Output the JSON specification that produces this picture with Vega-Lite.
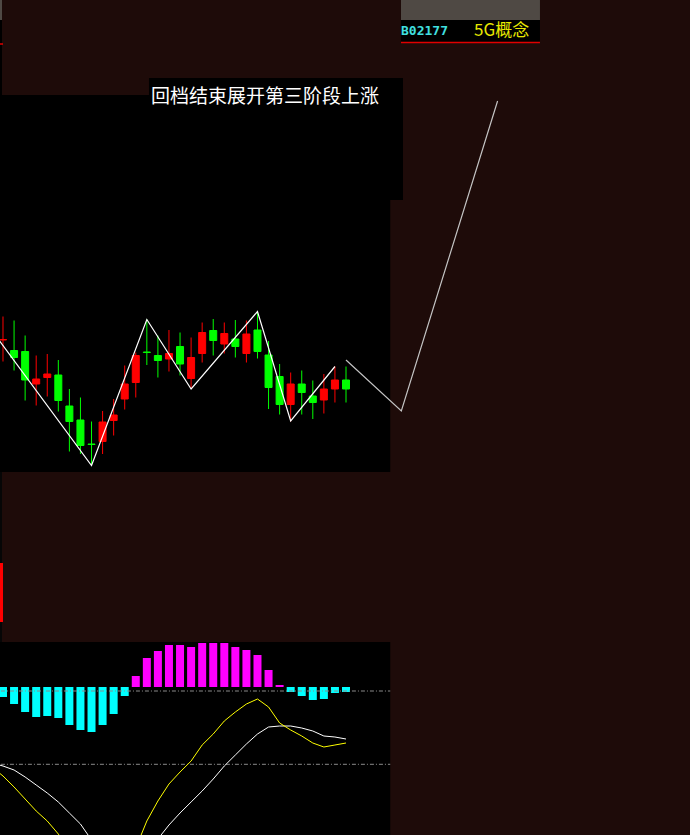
{
  "$schema": "https://vega.github.io/schema/vega-lite/v6.json",
  "width": 690,
  "height": 835,
  "autosize": {"type": "fit", "contains": "padding"},
  "padding": 0,
  "background": "#1e0b09",
  "config": {"view": {"stroke": null}, "axis": {"disable": true}, "legend": {"disable": true}, "scale": {"continuousPadding": 0}},
  "datasets": {
    "candles": [
      {"i": 0, "open": 11.20, "high": 11.67, "low": 10.77, "close": 11.21},
      {"i": 1, "open": 10.99, "high": 11.59, "low": 10.59, "close": 10.85},
      {"i": 2, "open": 10.97, "high": 11.29, "low": 9.99, "close": 10.40},
      {"i": 3, "open": 10.32, "high": 10.89, "low": 9.89, "close": 10.42},
      {"i": 4, "open": 10.45, "high": 10.92, "low": 10.07, "close": 10.52},
      {"i": 5, "open": 10.50, "high": 10.80, "low": 9.77, "close": 9.99},
      {"i": 6, "open": 9.88, "high": 10.22, "low": 8.97, "close": 9.57},
      {"i": 7, "open": 9.60, "high": 10.05, "low": 8.92, "close": 9.09},
      {"i": 8, "open": 9.12, "high": 9.57, "low": 8.69, "close": 9.11},
      {"i": 9, "open": 9.17, "high": 9.78, "low": 8.92, "close": 9.56},
      {"i": 10, "open": 9.59, "high": 10.02, "low": 9.29, "close": 9.70},
      {"i": 11, "open": 10.02, "high": 10.69, "low": 9.81, "close": 10.32},
      {"i": 12, "open": 10.35, "high": 10.95, "low": 10.05, "close": 10.89},
      {"i": 13, "open": 10.96, "high": 11.61, "low": 10.70, "close": 10.95},
      {"i": 14, "open": 10.89, "high": 11.29, "low": 10.45, "close": 10.79},
      {"i": 15, "open": 10.82, "high": 11.40, "low": 10.57, "close": 10.93},
      {"i": 16, "open": 11.07, "high": 11.35, "low": 10.49, "close": 10.72},
      {"i": 17, "open": 10.43, "high": 11.25, "low": 10.23, "close": 10.85},
      {"i": 18, "open": 10.93, "high": 11.55, "low": 10.75, "close": 11.35},
      {"i": 19, "open": 11.39, "high": 11.62, "low": 10.89, "close": 11.19},
      {"i": 20, "open": 11.12, "high": 11.55, "low": 10.93, "close": 11.33},
      {"i": 21, "open": 11.22, "high": 11.60, "low": 10.85, "close": 11.07},
      {"i": 22, "open": 10.93, "high": 11.59, "low": 10.75, "close": 11.32},
      {"i": 23, "open": 11.40, "high": 11.77, "low": 10.83, "close": 10.97},
      {"i": 24, "open": 10.90, "high": 11.18, "low": 9.82, "close": 10.25},
      {"i": 25, "open": 10.47, "high": 10.72, "low": 9.71, "close": 9.91},
      {"i": 26, "open": 9.91, "high": 10.55, "low": 9.57, "close": 10.32},
      {"i": 27, "open": 10.32, "high": 10.59, "low": 9.71, "close": 10.15},
      {"i": 28, "open": 10.08, "high": 10.39, "low": 9.62, "close": 9.95},
      {"i": 29, "open": 10.00, "high": 10.52, "low": 9.73, "close": 10.22},
      {"i": 30, "open": 10.22, "high": 10.67, "low": 9.95, "close": 10.40},
      {"i": 31, "open": 10.40, "high": 10.67, "low": 9.95, "close": 10.22}
    ],
    "zigzag": [
      {"i": -1, "p": 11.39},
      {"i": 8, "p": 8.69},
      {"i": 13, "p": 11.61},
      {"i": 17, "p": 10.22},
      {"i": 23, "p": 11.77},
      {"i": 26, "p": 9.58},
      {"i": 30, "p": 10.67}
    ],
    "projection": [
      {"i": 31, "p": 10.80},
      {"i": 36, "p": 9.78},
      {"i": 44.7, "p": 15.98}
    ],
    "macd": [
      {"i": -1, "dif": -0.80, "dea": -0.76},
      {"i": 0, "hist": -0.10, "dif": -0.89, "dea": -0.79},
      {"i": 1, "hist": -0.17, "dif": -1.00, "dea": -0.83},
      {"i": 2, "hist": -0.25, "dif": -1.12, "dea": -0.90},
      {"i": 3, "hist": -0.30, "dif": -1.24, "dea": -0.98},
      {"i": 4, "hist": -0.29, "dif": -1.34, "dea": -1.06},
      {"i": 5, "hist": -0.31, "dif": -1.47, "dea": -1.15},
      {"i": 6, "hist": -0.38, "dif": -1.63, "dea": -1.26},
      {"i": 7, "hist": -0.43, "dif": -1.79, "dea": -1.37},
      {"i": 8, "hist": -0.45, "dif": -1.95, "dea": -1.53},
      {"i": 9, "hist": -0.38, "dif": -1.99, "dea": -1.61},
      {"i": 10, "hist": -0.27, "dif": -1.93, "dea": -1.67},
      {"i": 11, "hist": -0.09, "dif": -1.79, "dea": -1.70},
      {"i": 12, "hist": 0.11, "dif": -1.61, "dea": -1.68},
      {"i": 13, "hist": 0.29, "dif": -1.34, "dea": -1.61},
      {"i": 14, "hist": 0.36, "dif": -1.14, "dea": -1.52},
      {"i": 15, "hist": 0.42, "dif": -0.97, "dea": -1.38},
      {"i": 16, "hist": 0.42, "dif": -0.85, "dea": -1.26},
      {"i": 17, "hist": 0.40, "dif": -0.74, "dea": -1.15},
      {"i": 18, "hist": 0.44, "dif": -0.58, "dea": -1.04},
      {"i": 19, "hist": 0.44, "dif": -0.47, "dea": -0.92},
      {"i": 20, "hist": 0.44, "dif": -0.34, "dea": -0.79},
      {"i": 21, "hist": 0.40, "dif": -0.25, "dea": -0.68},
      {"i": 22, "hist": 0.37, "dif": -0.17, "dea": -0.57},
      {"i": 23, "hist": 0.32, "dif": -0.12, "dea": -0.47},
      {"i": 24, "hist": 0.17, "dif": -0.20, "dea": -0.40},
      {"i": 25, "hist": 0.02, "dif": -0.36, "dea": -0.39},
      {"i": 26, "hist": -0.05, "dif": -0.43, "dea": -0.39},
      {"i": 27, "hist": -0.09, "dif": -0.49, "dea": -0.41},
      {"i": 28, "hist": -0.13, "dif": -0.56, "dea": -0.44},
      {"i": 29, "hist": -0.12, "dif": -0.60, "dea": -0.49},
      {"i": 30, "hist": -0.06, "dif": -0.58, "dea": -0.50},
      {"i": 31, "hist": -0.05, "dif": -0.56, "dea": -0.52}
    ]
  },
  "layer": [
    {
      "layer": [
        {
          "data": {"values": [{}]},
          "mark": {"type": "rect", "color": "#000000", "clip": true},
          "encoding": {
            "x": {"datum": -1, "type": "quantitative", "scale": {"domain": [-0.2711, 62.09], "nice": false, "zero": false, "padding": 0}},
            "x2": {"datum": 35},
            "y": {"datum": 16.1, "type": "quantitative", "scale": {"domain": [1.3, 18], "nice": false, "zero": false, "padding": 0}},
            "y2": {"datum": 8.56}
          }
        },
        {
          "data": {"values": [{}]},
          "mark": {"type": "rect", "color": "#000000", "clip": true},
          "encoding": {"x": {"datum": 13.195}, "x2": {"datum": 36.15}, "y": {"datum": 16.44}, "y2": {"datum": 14.0}}
        },
        {
          "data": {"values": [{}]},
          "mark": {"type": "rect", "color": "#000000", "clip": true},
          "encoding": {"x": {"datum": -1}, "x2": {"datum": 35}, "y": {"datum": 5.16}, "y2": {"datum": 1.0}}
        },
        {
          "data": {"values": [{}]},
          "mark": {"type": "rect", "color": "#4f4944", "clip": true},
          "encoding": {"x": {"datum": 35.97}, "x2": {"datum": 48.53}, "y": {"datum": 18.5}, "y2": {"datum": 17.6}}
        },
        {
          "data": {"values": [{}]},
          "mark": {"type": "rect", "color": "#000000", "clip": true},
          "encoding": {"x": {"datum": 35.97}, "x2": {"datum": 48.53}, "y": {"datum": 17.6}, "y2": {"datum": 17.16}}
        },
        {
          "data": {"values": [{}]},
          "mark": {"type": "rule", "color": "#e00000", "strokeWidth": 1.5, "clip": true},
          "encoding": {"x": {"datum": 35.97}, "x2": {"datum": 48.53}, "y": {"datum": 17.15}}
        },
        {
          "data": {"values": [{}]},
          "mark": {"type": "rect", "color": "#4f4944", "clip": true},
          "encoding": {"x": {"datum": -1}, "x2": {"datum": -0.09}, "y": {"datum": 18.5}, "y2": {"datum": 17.6}}
        },
        {
          "data": {"values": [{}]},
          "mark": {"type": "rect", "color": "#000000", "clip": true},
          "encoding": {"x": {"datum": -1}, "x2": {"datum": -0.09}, "y": {"datum": 17.6}, "y2": {"datum": 16.1}}
        },
        {
          "data": {"values": [{}]},
          "mark": {"type": "rule", "color": "#e00000", "strokeWidth": 1.5, "clip": true},
          "encoding": {"x": {"datum": -1}, "x2": {"datum": 0}, "y": {"datum": 17.12}}
        },
        {
          "data": {"values": [{}]},
          "mark": {"type": "rect", "color": "#060606", "clip": true},
          "encoding": {"x": {"datum": -1}, "x2": {"datum": -0.09}, "y": {"datum": 8.56}, "y2": {"datum": 5.16}}
        },
        {
          "data": {"values": [{}]},
          "mark": {"type": "rect", "color": "#ff0000", "clip": true},
          "encoding": {"x": {"datum": -1}, "x2": {"datum": 0}, "y": {"datum": 6.74}, "y2": {"datum": 5.56}}
        },
        {
          "data": {"name": "candles"},
          "mark": {"type": "rule", "strokeWidth": 1, "clip": true},
          "encoding": {
            "x": {"field": "i", "type": "quantitative"},
            "y": {"field": "low", "type": "quantitative"},
            "y2": {"field": "high"},
            "color": {"condition": {"test": "datum.close >= datum.open", "value": "#ff0000"}, "value": "#00ff00"}
          }
        },
        {
          "data": {"name": "candles"},
          "mark": {"type": "bar", "size": 7, "strokeWidth": 1, "clip": true},
          "encoding": {
            "x": {"field": "i", "type": "quantitative"},
            "y": {"field": "open", "type": "quantitative"},
            "y2": {"field": "close"},
            "fill": {"condition": {"test": "datum.close >= datum.open", "value": "#ff0000"}, "value": "#00ff00"},
            "stroke": {"condition": {"test": "datum.close >= datum.open", "value": "#ff0000"}, "value": "#00ff00"}
          }
        },
        {
          "data": {"name": "zigzag"},
          "mark": {"type": "line", "color": "#ffffff", "strokeWidth": 1.2, "clip": true},
          "encoding": {
            "x": {"field": "i", "type": "quantitative"},
            "y": {"field": "p", "type": "quantitative"}
          }
        },
        {
          "data": {"name": "projection"},
          "mark": {"type": "line", "color": "#c4c4c4", "strokeWidth": 1.2, "clip": true},
          "encoding": {
            "x": {"field": "i", "type": "quantitative"},
            "y": {"field": "p", "type": "quantitative"}
          }
        },
        {
          "data": {"values": [{"label": "回档结束展开第三阶段上涨"}]},
          "mark": {"type": "text", "align": "left", "baseline": "middle", "font": "Noto Sans CJK SC", "fontSize": 19, "color": "#ffffff"},
          "encoding": {"x": {"datum": 13.38}, "y": {"datum": 16.06}, "text": {"field": "label"}}
        },
        {
          "data": {"values": [{"label": "B02177"}]},
          "mark": {"type": "text", "align": "left", "baseline": "middle", "font": "DejaVu Sans Mono", "fontSize": 13, "fontWeight": "bold", "color": "#40e0e0"},
          "encoding": {"x": {"datum": 35.97}, "y": {"datum": 17.38}, "text": {"field": "label"}}
        },
        {
          "data": {"values": [{"label": "5G概念"}]},
          "mark": {"type": "text", "align": "left", "baseline": "middle", "font": "Noto Sans CJK SC", "fontSize": 17, "color": "#e8e800"},
          "encoding": {"x": {"datum": 42.57}, "y": {"datum": 17.38}, "text": {"field": "label"}}
        }
      ]
    },
    {
      "data": {"name": "macd"},
      "layer": [
        {
          "mark": {"type": "bar", "size": 8, "clip": true},
          "encoding": {
            "x": {"field": "i", "type": "quantitative"},
            "y": {"field": "hist", "type": "quantitative", "scale": {"domain": [-1.48, 6.87], "nice": false, "zero": false, "padding": 0}},
            "y2": {"datum": 0},
            "color": {"condition": {"test": "datum.hist >= 0", "value": "#ff00ff"}, "value": "#00ffff"}
          }
        },
        {
          "data": {"values": [{"level": -0.04}, {"level": -0.773}]},
          "mark": {"type": "rule", "color": "#8a8a8a", "strokeWidth": 1, "strokeDash": [4, 2, 1, 2], "clip": true},
          "encoding": {
            "x": {"datum": -1},
            "x2": {"datum": 35},
            "y": {"field": "level", "type": "quantitative"}
          }
        },
        {
          "mark": {"type": "line", "color": "#ffffff", "strokeWidth": 1, "clip": true},
          "encoding": {
            "x": {"field": "i", "type": "quantitative"},
            "y": {"field": "dea", "type": "quantitative"}
          }
        },
        {
          "mark": {"type": "line", "color": "#ffff00", "strokeWidth": 1, "clip": true},
          "encoding": {
            "x": {"field": "i", "type": "quantitative"},
            "y": {"field": "dif", "type": "quantitative"}
          }
        }
      ]
    }
  ],
  "resolve": {"scale": {"y": "independent"}}
}
